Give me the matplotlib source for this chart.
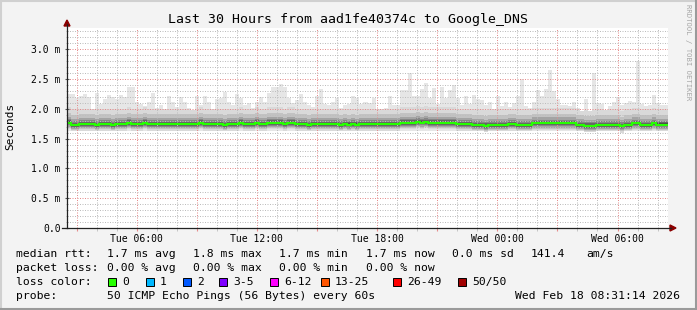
import datetime as dt
import matplotlib
matplotlib.use("Agg")
import matplotlib.pyplot as plt
import matplotlib.dates as mdates
import numpy as np
from matplotlib.lines import Line2D
from matplotlib.patches import Polygon, Rectangle

# =============== Data ===============
START = dt.datetime(2026, 2, 17, 2, 31, 14)
STEP_MIN = 12                     # one smoke column = 12 minutes, 150 columns = 30 h

# top of the smoke (max rtt of the 50 pings), ms
SMOKE_TOP = [
    2.25, 2.25, 2.18, 2.21, 2.25, 2.19, 2.00, 2.26, 2.08, 2.16, 2.23, 2.20, 2.17,
    2.23, 2.19, 2.37, 2.37, 2.12, 2.08, 2.04, 2.12, 2.27, 2.01, 2.07, 2.00, 2.21,
    2.12, 2.03, 2.20, 2.12, 2.02, 1.98, 2.21, 2.07, 2.21, 2.12, 2.00,
    2.17, 2.18, 2.29, 2.12, 2.07, 2.25, 2.18, 2.07, 2.10, 2.02, 2.12, 2.20, 2.12,
    2.26, 2.36, 2.36, 2.42, 2.36, 2.18, 2.10, 2.15, 2.25, 2.12, 2.07, 2.03, 2.21,
    2.34, 2.08, 2.07, 2.12, 2.18, 2.02, 2.07, 2.08, 2.21, 2.18, 2.08, 2.12,
    2.10, 2.18, 2.00, 2.00, 2.02, 2.21, 2.07, 2.07, 2.31, 2.32, 2.60, 2.22, 2.22,
    2.34, 2.44, 2.18, 2.35, 2.08, 2.36, 2.18, 2.31, 2.40, 2.18, 2.07, 2.22, 2.08,
    2.23, 2.17, 2.15, 2.07, 2.12, 2.00, 2.22, 2.04, 2.12, 2.03, 2.10,
    2.21, 2.50, 2.04, 2.01, 2.12, 2.31, 2.21, 2.34, 2.65, 2.30, 2.17, 2.07, 2.06,
    2.04, 2.12, 2.01, 1.97, 2.17, 1.96, 2.60, 2.10, 2.08, 1.98, 2.04, 2.12, 2.20,
    2.07, 2.10, 2.13, 2.12, 2.80, 2.08, 2.04, 2.07, 2.23, 2.10, 2.07, 2.07,
]
SMOKE_BOTTOM = 1.62               # min rtt, about flat over the whole range

# median rtt, ms
MEDIAN = (
    [1.77, 1.73, 1.73, 1.745, 1.745, 1.745, 1.745, 1.73, 1.745, 1.745, 1.745, 1.73,
     1.745, 1.745, 1.745, 1.765, 1.745, 1.745, 1.745, 1.765]
    + [1.745] * 13 + [1.765] + [1.745] * 5
    + [1.73, 1.745, 1.745, 1.745, 1.765, 1.745, 1.745, 1.745, 1.765, 1.745, 1.745,
       1.765, 1.765, 1.765, 1.765, 1.745, 1.765, 1.765, 1.745, 1.745, 1.745, 1.73]
    + [1.745] * 7 + [1.73, 1.745, 1.735, 1.745, 1.735] + [1.745] * 10
    + [1.765] * 4 + [1.78, 1.77, 1.78] + [1.765] * 7 + [1.745] * 4 + [1.73] * 3
    + [1.715] + [1.73] * 5 + [1.745] * 2 + [1.73] * 4 + [1.755] * 11 + [1.73] * 2
    + [1.715] * 3 + [1.73] * 6 + [1.71] + [1.73] * 2 + [1.755] * 2 + [1.73] * 3
    + [1.755] + [1.735] * 3
)

LEGEND_RTT  = ["1.7 ms avg", "1.8 ms max", "1.7 ms min", "1.7 ms now", "0.0 ms sd", "141.4", "am/s"]
LEGEND_LOSS = ["0.00 % avg", "0.00 % max", "0.00 % min", "0.00 % now"]
LOSS_LABELS = ["0", "1", "2", "3-5", "6-12", "13-25", "26-49", "50/50"]
LOSS_COLORS = ["#26ff00", "#00b8ff", "#0059ff", "#7e00ff", "#ff00ff", "#ff5500", "#ff0000", "#a10000"]

# =============== Style ===============
W, H = 697, 310
MONO = "DejaVu Sans Mono"
BG = "#f3f3f3"
MGRID = "#e68c8c"
GRID = "#bdbdbd"
# smoke layers: (below median, above median, gray) from outside to inside
SMOKE_LAYERS = [
    (0.11, 0.26, "#d9d9d9"),
    (0.09, 0.16, "#c2c2c2"),
    (0.07, 0.10, "#a4a4a4"),
    (0.05, 0.065, "#868686"),
    (0.03, 0.04, "#666666"),
    (0.015, 0.02, "#4a4a4a"),
]

def fx(x):
    return x / W

def fy(y):
    return 1 - y / H

# =============== Figure ===============
fig = plt.figure(figsize=(W / 100, H / 100), dpi=100, facecolor=BG)
ax = fig.add_axes([fx(67), fy(228), fx(668) - fx(67), (228 - 28) / H])
ax.set_facecolor("white")

n = len(SMOKE_TOP)
assert n == len(MEDIAN) == 150
times = [START + dt.timedelta(minutes=STEP_MIN * i) for i in range(n + 1)]
edges = mdates.date2num(times)
top = np.array(SMOKE_TOP)
med = np.array(MEDIAN)

ax.stairs(top, edges, baseline=SMOKE_BOTTOM, fill=True, color="#e6e6e6", lw=0, zorder=1)
for lo, hi, col in SMOKE_LAYERS:
    ax.stairs(np.minimum(med + hi, top), edges, baseline=med - lo, fill=True,
              color=col, lw=0, zorder=1.2)
ax.stairs(med, edges, baseline=None, color=LOSS_COLORS[0], lw=1.5, zorder=4)

# axes ranges
ax.set_xlim(edges[0], edges[-1])
ax.set_ylim(0, 200 / 59.6)

# grid like rrdtool: hourly minor, 3-hourly major, labels every 6 h
ax.xaxis.set_major_locator(mdates.HourLocator(byhour=range(0, 24, 3)))
ax.xaxis.set_minor_locator(mdates.HourLocator())
def xfmt(v, pos):
    d = mdates.num2date(v)
    return d.strftime("%a %H:%M") if d.hour % 6 == 0 else ""
ax.xaxis.set_major_formatter(plt.FuncFormatter(xfmt))
ax.yaxis.set_major_locator(plt.MultipleLocator(0.5))
ax.yaxis.set_minor_locator(plt.MultipleLocator(0.1))
ax.yaxis.set_major_formatter(plt.FuncFormatter(lambda v, p: "0.0" if v == 0 else f"{v:.1f} m"))

ax.grid(which="minor", color=GRID, lw=0.72, ls=(0, (1, 1.5)), zorder=2)
ax.grid(which="major", color=MGRID, lw=0.72, ls=(0, (1, 1.5)), zorder=2.1)
ax.set_axisbelow(False)

ax.tick_params(axis="x", which="major", length=2, color=MGRID, pad=2.5,
               labelsize=7, labelfontfamily=MONO)
ax.tick_params(axis="x", which="minor", length=2, color=GRID)
ax.tick_params(axis="y", which="major", length=3, direction="inout", color="#555555",
               pad=3, labelsize=7, labelfontfamily=MONO)
ax.tick_params(axis="y", which="minor", length=2, direction="inout", color="#aaaaaa")
for s in ax.spines.values():
    s.set_visible(False)

# axis lines with rrdtool arrows
fig.add_artist(Line2D([fx(67), fx(67)], [fy(228), fy(24)], color="#222222", lw=0.9))
fig.add_artist(Line2D([fx(62), fx(671)], [fy(228), fy(228)], color="#222222", lw=0.9))
fig.add_artist(Polygon([[fx(64), fy(26)], [fx(70), fy(26)], [fx(67), fy(20)]],
                       closed=True, color="#8b0000"))
fig.add_artist(Polygon([[fx(670), fy(225)], [fx(670), fy(231)], [fx(676), fy(228)]],
                       closed=True, color="#8b0000"))

# frame of the canvas
fig.add_artist(Line2D([0, 1], [fy(0.5), fy(0.5)], color="#d0d0d0", lw=1.5))
fig.add_artist(Line2D([fx(0.5), fx(0.5)], [0, 1], color="#d0d0d0", lw=1.5))
fig.add_artist(Line2D([0, 1], [fy(309), fy(309)], color="#9a9a9a", lw=1.5))
fig.add_artist(Line2D([fx(696), fx(696)], [0, 1], color="#9a9a9a", lw=1.5))

# texts
fig.text(fx(348), fy(19), "Last 30 Hours from aad1fe40374c to Google_DNS",
         ha="center", va="center", family=MONO, size=9.5)
fig.text(fx(10), fy(126), "Seconds", rotation=90, ha="center", va="center",
         family=MONO, size=8)
fig.text(fx(688), fy(4), "RRDTOOL / TOBI OETIKER", rotation=270, ha="center", va="top",
         family=MONO, size=5.2, color="#a6a6a6")

LS = 8.2
row_y = [254, 268, 282, 296]
fig.text(fx(16), fy(row_y[0]), "median rtt:", va="center", family=MONO, size=LS)
for txt, x in zip(LEGEND_RTT, [107, 193, 279, 366, 452, 531, 586]):
    fig.text(fx(x), fy(row_y[0]), txt, va="center", family=MONO, size=LS)
fig.text(fx(16), fy(row_y[1]), "packet loss:", va="center", family=MONO, size=LS)
for txt, x in zip(LEGEND_LOSS, [107, 193, 279, 366]):
    fig.text(fx(x), fy(row_y[1]), txt, va="center", family=MONO, size=LS)
fig.text(fx(16), fy(row_y[2]), "loss color:", va="center", family=MONO, size=LS)
box_x = [108, 146, 183, 219, 270, 321, 393, 458]
for lab, col, bx in zip(LOSS_LABELS, LOSS_COLORS, box_x):
    fig.add_artist(Rectangle((fx(bx), fy(row_y[2] + 4)), 8 / W, 8 / H,
                             facecolor=col, edgecolor="black", lw=0.7))
    fig.text(fx(bx + 14), fy(row_y[2]), lab, va="center", family=MONO, size=LS)
fig.text(fx(16), fy(row_y[3]), "probe:", va="center", family=MONO, size=LS)
fig.text(fx(107), fy(row_y[3]), "50 ICMP Echo Pings (56 Bytes) every 60s",
         va="center", family=MONO, size=LS)
fig.text(fx(680), fy(row_y[3]), "Wed Feb 18 08:31:14 2026", ha="right",
         va="center", family=MONO, size=LS)

fig.savefig("out.png", dpi=100, facecolor=BG)
